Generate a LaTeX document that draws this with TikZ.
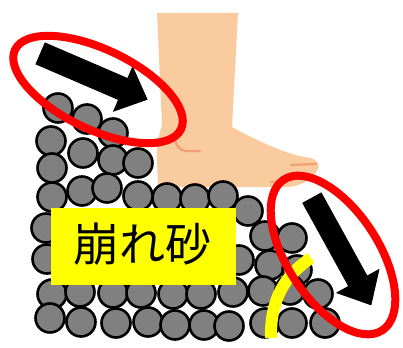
\documentclass[tikz,border=0pt]{standalone}
\usepackage{fontspec}
\newfontfamily\jpfont{Noto Sans CJK JP}
\definecolor{skin}{RGB}{251,203,160}
\definecolor{crease}{RGB}{238,160,112}
\definecolor{grain}{RGB}{128,128,128}
\definecolor{ringred}{RGB}{255,0,0}
\definecolor{marker}{RGB}{255,255,0}
\begin{document}
\begin{tikzpicture}[x=1pt,y=-1pt,
  grainball/.style={fill=grain,draw=black,line width=2.6pt},
  ring/.style={draw=ringred,line width=8pt},
  bigarrow/.style={fill=black,draw=black,line width=0.8pt,line join=miter},
  foot/.style={fill=skin},
  footline/.style={draw=crease,line width=2.2pt,line cap=round},
  label/.style={fill=marker,minimum width=185pt,minimum height=77pt,inner sep=0pt}]
\useasboundingbox (0,0) rectangle (403,347);

% foot
\path[foot] (157,13) -- (238,13) -- (232,127)
  .. controls (252,138) and (282,153) .. (305,157)
  .. controls (318,158) and (322,166) .. (316,172)
  .. controls (310,181) and (300,186) .. (288,187)
  -- (158,187) -- (157,160)
  .. controls (156,145) and (159,135) .. (162,125) -- cycle;
\draw[footline] (175,138) .. controls (176,146) and (179,150) .. (186,151) -- (200,151);
\draw[footline] (291,165) -- (316,164);
\draw[footline] (271,182) -- (287,181);

% sand grains
\foreach \p in {(58,108),(87,119),(113,133),
                (51,141),(83,153),(113,160),(138,163),
                (52,168),
                (52,197),(82,191),(107,188),(138,196),(167,198),(195,199),(223,196),(248,211),
                (46,228),(47,259),
                (265,236),(292,238),(239,260),(270,265),(297,270),
                (52,294),(80,292),(113,293),(141,293),(173,294),(201,294),(233,292),(263,291),(290,290),(318,294),
                (50,318),(81,322),(116,323),(148,322),(175,325),(204,325),(229,326),(265,323),(292,323),(325,323)}
  \draw[grainball] \p circle[radius=14.5pt];

% label
\node[label] (tag) at (143.5,246.5) {};
\node[inner sep=0pt,font=\jpfont\fontsize{46pt}{46pt}\selectfont] (word) at (142,244) {崩れ砂};

% slip surface
\draw[marker,line width=12pt] (271,338) .. controls (270,300) and (285,275) .. (311,258);

% movement arrows
\begin{scope}[shift={(40.5,53.5)},rotate=-23.3]
  \draw[bigarrow] (0,-11.5) -- (90,-11.5) -- (90,-24) -- (116,0) -- (90,24) -- (90,11.5) -- (0,11.5) -- cycle;
\end{scope}
\begin{scope}[shift={(312,198)},rotate=-61.1]
  \draw[bigarrow] (0,-10.5) -- (95,-10.5) -- (95,-24) -- (122,0) -- (95,24) -- (95,10.5) -- (0,10.5) -- cycle;
\end{scope}

% highlight rings
\draw[ring,rotate around={-25.6:(98,89.5)}] (98,89.5) ellipse [x radius=92pt,y radius=40pt];
\draw[ring,rotate around={-56.8:(333,255)}] (333,255) ellipse [x radius=90pt,y radius=45.5pt];
\end{tikzpicture}
\end{document}
